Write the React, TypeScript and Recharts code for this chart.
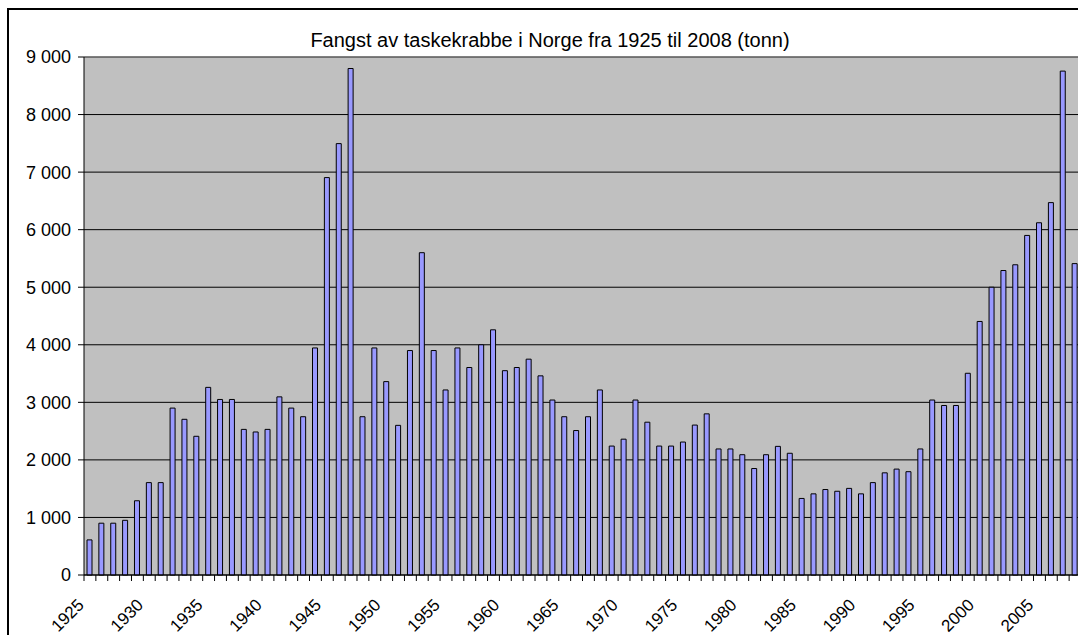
import React from 'react';
import { BarChart, Bar, XAxis, YAxis, CartesianGrid, ReferenceLine } from 'recharts';

const years = [
  1925, 1926, 1927, 1928, 1929, 1930, 1931, 1932, 1933, 1934,
  1935, 1936, 1937, 1938, 1939, 1940, 1941, 1942, 1943, 1944,
  1945, 1946, 1947, 1948, 1949, 1950, 1951, 1952, 1953, 1954,
  1955, 1956, 1957, 1958, 1959, 1960, 1961, 1962, 1963, 1964,
  1965, 1966, 1967, 1968, 1969, 1970, 1971, 1972, 1973, 1974,
  1975, 1976, 1977, 1978, 1979, 1980, 1981, 1982, 1983, 1984,
  1985, 1986, 1987, 1988, 1989, 1990, 1991, 1992, 1993, 1994,
  1995, 1996, 1997, 1998, 1999, 2000, 2001, 2002, 2003, 2004,
  2005, 2006, 2007, 2008,
];

// fangst i tonn
const catchTonnes = [
  610, 900, 900, 950, 1290, 1605, 1605, 2900, 2705, 2410,
  3260, 3050, 3050, 2530, 2485, 2530, 3095, 2900, 2750, 3945,
  6905, 7495, 8800, 2750, 3945, 3360, 2600, 3900, 5600, 3900,
  3215, 3945, 3605, 4000, 4260, 3550, 3605, 3750, 3460, 3040,
  2750, 2510, 2750, 3215, 2240, 2360, 3040, 2655, 2240, 2240,
  2310, 2605, 2800, 2190, 2190, 2090, 1850, 2090, 2235, 2115,
  1330, 1410, 1485, 1455, 1505, 1410, 1605, 1775, 1840, 1795,
  2190, 3040, 2945, 2945, 3505, 4405, 5000, 5290, 5390, 5900,
  6120, 6470, 8755, 5410,
];

const yTicks = [0, 1000, 2000, 3000, 4000, 5000, 6000, 7000, 8000, 9000];
const labelYears = [1925, 1930, 1935, 1940, 1945, 1950, 1955, 1960, 1965, 1970, 1975, 1980, 1985, 1990, 1995, 2000, 2005];

const data = years.map((year, i) => ({ year, tonn: catchTonnes[i] }));

const FONT = '"Liberation Sans", Arial, sans-serif';
const CHART_W = 1081;
const PLOT_LEFT = 84;
const step = (CHART_W - PLOT_LEFT) / years.length;

const YearTick = (props: any) => {
  const { x, y, payload } = props;
  const year = payload.value;
  return (
    <g>
      <line x1={x - step / 2} x2={x - step / 2} y1={y} y2={y + 6} stroke="#000" />
      {labelYears.includes(year) && (
        <text
          transform={`translate(${x - 5},${y + 31}) rotate(-45)`}
          textAnchor="end"
          fontSize={17}
          fontFamily={FONT}
          fill="#000"
        >
          {year}
        </text>
      )}
    </g>
  );
};

const fmt = (v: number) => (v >= 1000 ? `${Math.floor(v / 1000)} ${String(v % 1000).padStart(3, '0')}` : String(v));

export default function App() {
  return (
    <div style={{ position: 'absolute', left: 0, top: 0, width: 1078, height: 635, overflow: 'hidden', background: '#fff' }}>
      <div
        style={{
          position: 'absolute', left: 7, top: 8, width: 1200, height: 800,
          border: '2px solid #000', boxSizing: 'border-box',
        }}
      />
      <div
        style={{
          position: 'absolute', left: 0, top: 28, width: 1100, textAlign: 'center',
          fontFamily: FONT, fontSize: 20, color: '#000', lineHeight: '24px',
        }}
      >
        Fangst av taskekrabbe i Norge fra 1925 til 2008 (tonn)
      </div>
      <div style={{ position: 'absolute', left: 0, top: 0 }}>
        <BarChart
          width={CHART_W}
          height={635}
          data={data}
          margin={{ top: 57, right: 0, left: 0, bottom: 0 }}
          barSize={5}
        >
          <CartesianGrid vertical={false} stroke="#000" fill="#C0C0C0" fillOpacity={1} />
          <ReferenceLine y={9000} stroke="#808080" />
          <XAxis
            dataKey="year"
            interval={0}
            height={60}
            tickSize={0}
            tickMargin={0}
            tickLine={false}
            axisLine={{ stroke: '#000' }}
            tick={<YearTick />}
          />
          <YAxis
            width={PLOT_LEFT}
            domain={[0, 9000]}
            ticks={yTicks}
            tickFormatter={fmt}
            tickSize={6}
            tickMargin={7}
            tickLine={{ stroke: '#000' }}
            axisLine={{ stroke: '#000' }}
            tick={{ fill: '#000', fontSize: 18, fontFamily: FONT }}
          />
          <Bar dataKey="tonn" fill="#9999FF" stroke="#000" strokeWidth={1} isAnimationActive={false} />
        </BarChart>
      </div>
    </div>
  );
}
